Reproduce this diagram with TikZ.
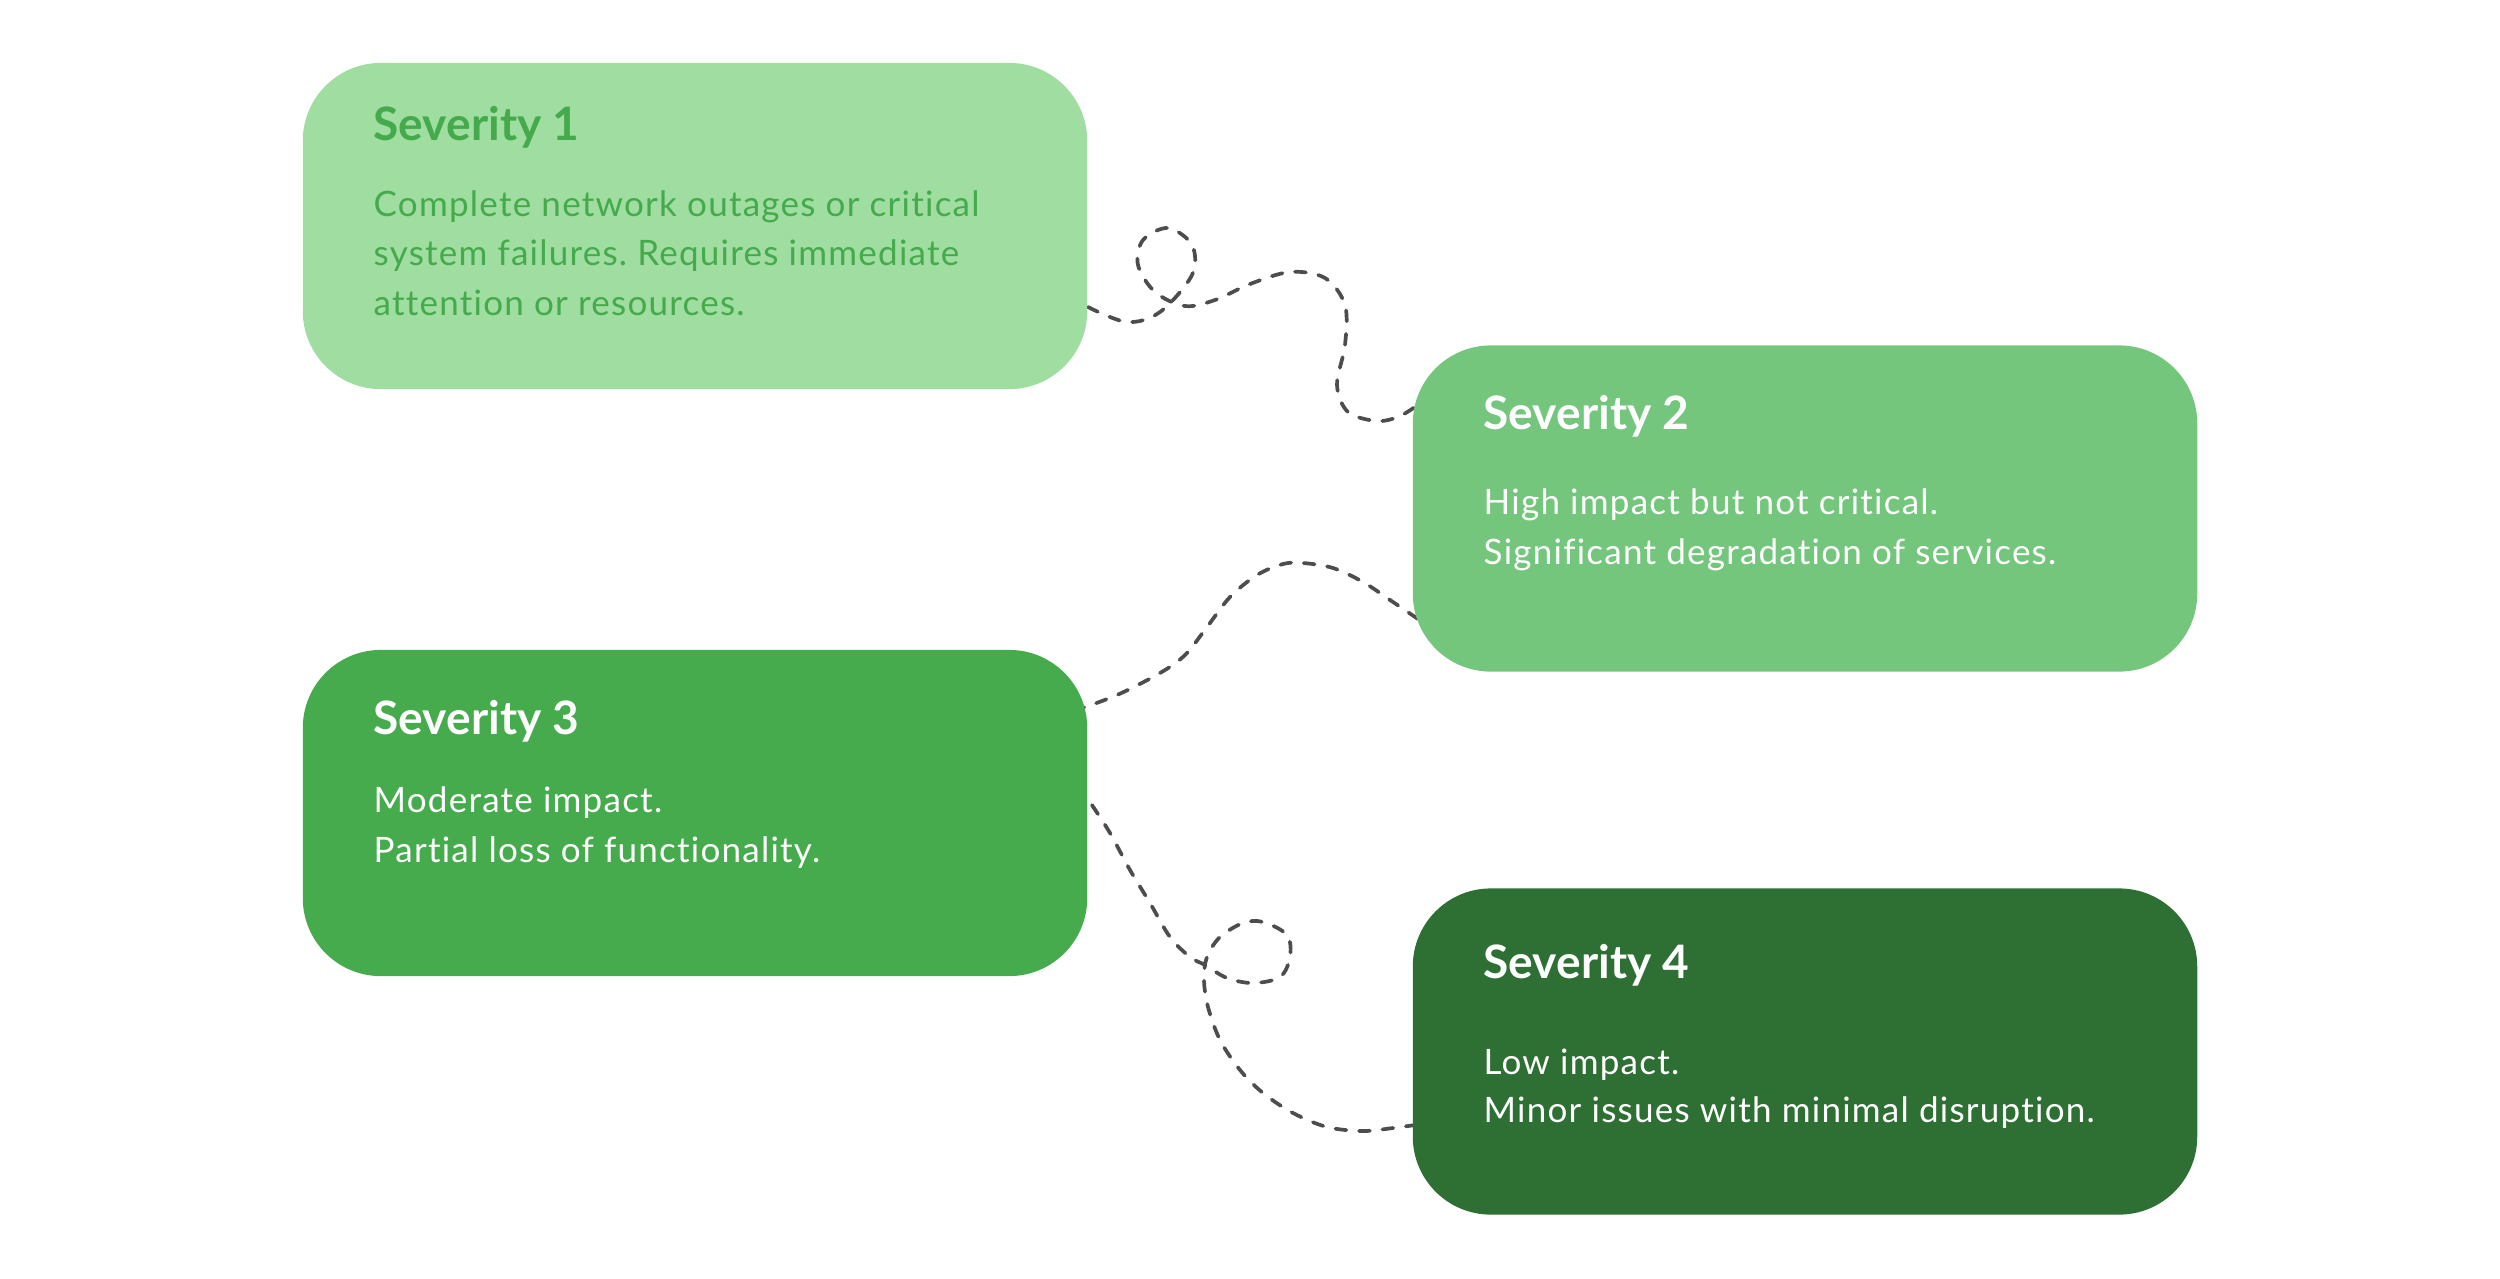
\documentclass[tikz,border=0pt]{standalone}
\usepackage{fontspec}
\setmainfont[Ligatures=NoCommon]{Lato}
\newfontfamily\bodyfont[LetterSpace=3.5,Ligatures=NoCommon]{Lato}
\frenchspacing
\usetikzlibrary{calc}
\pgfdeclarelayer{bg}
\pgfsetlayers{bg,main}
\definecolor{sevA}{HTML}{9FDDA0}
\definecolor{sevB}{HTML}{74C67C}
\definecolor{sevC}{HTML}{45AB4C}
\definecolor{sevD}{HTML}{2E6F33}
\definecolor{sevAtext}{HTML}{45AA4B}
\definecolor{wire}{HTML}{4D4D4D}
\begin{document}
\begin{tikzpicture}[x=0.01cm,y=-0.01cm,
  card/.style={rectangle, rounded corners=0.78cm, minimum width=7.84cm, minimum height=3.26cm, inner sep=0pt},
  ttl/.style={anchor=base west, inner sep=0pt, font=\fontsize{13.1pt}{15pt}\selectfont\bfseries},
  txt/.style={anchor=base west, inner sep=0pt, font=\bodyfont\fontsize{9.96pt}{14pt}\selectfont},
  conn/.style={draw=wire, line width=1.05pt, line cap=round, dash pattern=on 3.1pt off 3.6pt}]
\useasboundingbox (0,0) rectangle (2500,1278);

% cards
\node[card, fill=sevA] (b1) at (695,226) {};
\node[card, fill=sevB] (b2) at (1805,508.5) {};
\node[card, fill=sevC] (b3) at (695,813) {};
\node[card, fill=sevD] (b4) at (1805,1051.5) {};

% texts
\node[ttl, text=sevAtext] (t1) at (373,140) {Severity 1};
\node[txt, text=sevAtext] (l1a) at (373,216) {Complete network outages or critical};
\node[txt, text=sevAtext] (l1b) at (373,265.5) {system failures. Requires immediate};
\node[txt, text=sevAtext] (l1c) at (373,315) {attention or resources.};

\node[ttl, text=white] (t2) at (1483,429) {Severity 2};
\node[txt, text=white] (l2a) at (1483,514) {High impact but not critical.};
\node[txt, text=white] (l2b) at (1483,564) {Significant degradation of services.};

\node[ttl, text=white] (t3) at (373,734) {Severity 3};
\node[txt, text=white] (l3a) at (373,812) {Moderate impact.};
\node[txt, text=white] (l3b) at (373,862) {Partial loss of functionality.};

\node[ttl, text=white] (t4) at (1483,978) {Severity 4};
\node[txt, text=white] (l4a) at (1483,1074) {Low impact.};
\node[txt, text=white] (l4b) at (1483,1122) {Minor issues with minimal disruption.};

% connectors
\begin{pgfonlayer}{bg}
\coordinate (c1s) at ($(b1.east)+(0,81)$);
\coordinate (c1e) at ($(b2.west)+(10,-106.5)$);
\coordinate (c2s) at ($(b3.east)+(-14,-102)$);
\coordinate (c2e) at ($(b2.west)+(14,116)$);
\coordinate (c3s) at ($(b3.east)+(4,-8)$);
\coordinate (c3e) at ($(b4.west)+(10,72.5)$);

\draw[conn] plot[smooth, tension=0.55] coordinates {(c1s) (1127,322) (1160,312) (1192,275) (1192,245) (1168,228) (1143,240) (1138,265) (1155,292) (1185,306) (1215,300) (1250,284) (1290,272) (1325,278) (1345,305) (1345,345) (1337,385) (1348,412) (1377,421) (1400,416) (c1e)};

\draw[conn] plot[smooth, tension=0.55] coordinates {(c2s) (1117,695) (1160,673) (1185,655) (1207,627) (1230,597) (1257,575) (1283,564) (1303,563) (1333,568) (1363,582) (1393,602) (c2e)};

\draw[conn] plot[smooth, tension=0.55] coordinates {(c3s) (1110,833) (1130,870) (1150,903) (1170,937) (1190,957) (1205,965) (1227,978) (1253,983) (1280,977) (1290,957) (1287,935) (1263,922) (1243,923) (1220,937) (1207,957) (1204,980) (1208,1007) (1220,1040) (1240,1070) (1263,1093) (1293,1113) (1327,1127) (1363,1131) (1393,1128) (c3e)};
\end{pgfonlayer}
\end{tikzpicture}
\end{document}
